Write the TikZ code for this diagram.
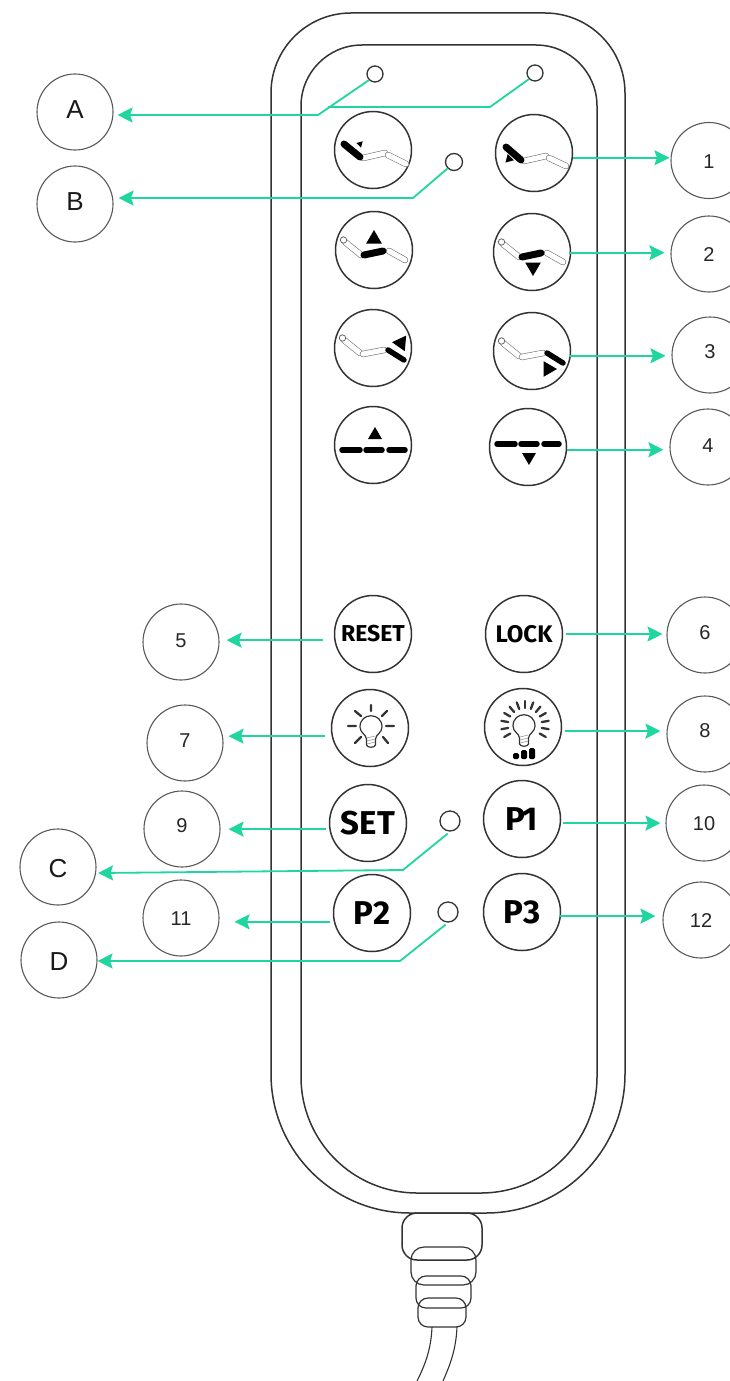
\documentclass[tikz,border=0pt]{standalone}
\usepackage{fontspec}
\setmainfont{Liberation Sans}
\newfontfamily\btnfont{Fira Sans}
\usetikzlibrary{arrows.meta,calc}
\definecolor{ink}{HTML}{333333}
\definecolor{mint}{HTML}{1FD6A0}
\tikzset{
  shell/.style={draw=ink,line width=1.5pt},
  btn/.style={circle,draw=ink,line width=1.5pt,minimum size=77pt,inner sep=0pt},
  led/.style={circle,draw=ink,line width=1.3pt,inner sep=0pt,fill=white},
  big/.style={circle,draw=black!65,line width=1.1pt,minimum size=76pt,inner sep=0pt,text=black!90,font=\fontsize{26}{28}\selectfont},
  num/.style={circle,draw=black!65,line width=1.1pt,minimum size=76pt,inner sep=0pt,text=black!85,font=\fontsize{20}{22}\selectfont},
  lnk/.style={draw=mint,line width=1.8pt,line join=round},
  arr/.style={lnk,-{Stealth[length=15pt,width=15pt,inset=2.5pt]}},
  cordline/.style={draw=ink,line width=1.2pt,rounded corners=11pt},
  ray/.style={draw=ink,line width=2.3pt,line cap=round},
}
\newcommand\nudge[2]{\raisebox{#1pt}[\height][\depth]{#2}}
\newcommand\capo[2]{\draw[line width=6.4pt,line cap=round,black!55] #1 -- #2; \draw[line width=5.2pt,line cap=round,white] #1 -- #2;}
\newcommand\caps[2]{\draw[line width=7pt,line cap=round,black] #1 -- #2;}
\newcommand\flatbar[2]{\draw[line width=5.5pt,line cap=round,black] #1 -- #2;}
\newcommand\tria[4]{\fill[black,shift={(#1,#2)},rotate=#3] (0,-#4) -- ({.87*#4},{.5*#4}) -- ({-.87*#4},{.5*#4}) -- cycle;}
\newcommand\headloop{\draw[black!60,line width=.8pt,fill=white] (-30.5,-10) circle (3.2pt);}
\newcommand\bulb{%
  \draw[ink,line width=1.2pt,line join=round] (-4.5,11) .. controls (-5,6) and (-11,5) .. (-11,-1) .. controls (-11,-16) and (11,-16) .. (11,-1) .. controls (11,5) and (5,6) .. (4.5,11) -- (4.5,17) .. controls (4,20) and (-4,20) .. (-4.5,17) -- cycle;
  \draw[black!40,line width=.6pt] (-4,10) -- (4,8) (-4,13) -- (4,11) (-4,16) -- (4,14);}
\begin{document}
\begin{tikzpicture}[x=1pt,y=-1pt]
\useasboundingbox (0,0) rectangle (729,1381);
% cord
\draw[draw=ink,line width=1.1pt] (432,1327) .. controls (431,1350) and (425,1365) .. (417,1381);
\draw[draw=ink,line width=1.1pt] (457,1327) .. controls (456,1350) and (450,1365) .. (443,1381);
\draw[cordline,rounded corners=10pt] (418,1298) rectangle (466,1327);
\draw[cordline,rounded corners=10pt] (416,1276) rectangle (471,1308);
\draw[cordline,rounded corners=13pt] (411,1247) rectangle (476,1285);
\draw[cordline,line width=1.5pt,rounded corners=15pt] (402,1213) rectangle (482,1260);
% body
\draw[shell] (351,13) -- (545,13) arc (-90:0:80) -- (625,1074) arc (0:90:139) -- (410,1213) arc (90:180:139) -- (271,93) arc (180:270:80) -- cycle;
\draw[shell] (362,45) -- (536,45) arc (-90:0:61) -- (597,1077) arc (0:90:116) -- (417,1193) arc (90:180:116) -- (301,106) arc (180:270:61) -- cycle;
% buttons
\node[btn] (bA) at (373,150) {};
\node[btn] (b1) at (534,153) {};
\node[btn] (bE) at (374,250) {};
\node[btn] (b2) at (532,252) {};
\node[btn] (bF) at (373,348) {};
\node[btn] (b3) at (532,351) {};
\node[btn] (bG) at (373,445) {};
\node[btn] (b4) at (528,447) {};
\node[btn,font=\btnfont\bfseries\fontsize{23}{25}\selectfont] (b5) at (373,634) {RESET};
\node[btn,font=\btnfont\bfseries\fontsize{24}{26}\selectfont] (b6) at (524,634) {LOCK};
\node[btn] (b7) at (370,728) {};
\node[btn] (b8) at (523,727) {};
\node[btn,font=\btnfont\bfseries\fontsize{33}{35}\selectfont] (b9) at (368,823) {SET};
\node[btn,font=\btnfont\bfseries\fontsize{33}{35}\selectfont] (b10) at (522,819) {P\kern-3pt 1};
\node[btn,font=\btnfont\bfseries\fontsize{33}{35}\selectfont] (b11) at (372,913) {P2};
\node[btn,font=\btnfont\bfseries\fontsize{33}{35}\selectfont] (b12) at (522,912) {P3};
% chair icons
\begin{scope}[shift={(bA)}]
  \capo{(-10,8)}{(12,3)}\capo{(15,5)}{(33,14)}\caps{(-29,-6)}{(-13,7)}\tria{-13}{-6}{75}{3.8}
\end{scope}
\begin{scope}[shift={(b1)}]
  \capo{(-10,8)}{(12,3)}\capo{(15,5)}{(32,13)}\caps{(-28,-6)}{(-13,7)}\tria{-25}{6}{15}{5}
\end{scope}
\begin{scope}[shift={(bE)}]
  \capo{(-29,-8)}{(-13,5)}\headloop\capo{(15,1)}{(31,10)}\caps{(-10,5)}{(9,1)}\tria{0}{-11}{0}{9}
\end{scope}
\begin{scope}[shift={(b2)}]
  \capo{(-29,-8)}{(-13,5)}\headloop\capo{(15,1)}{(31,10)}\caps{(-10,5)}{(9,1)}\tria{1}{15}{180}{9}
\end{scope}
\begin{scope}[shift={(bF)}]
  \capo{(-29,-8)}{(-13,5)}\headloop\capo{(-10,6)}{(11,2)}\flatbar{(15,2)}{(31,12)}\tria{28}{-5}{85}{9}
\end{scope}
\begin{scope}[shift={(b3)}]
  \capo{(-29,-8)}{(-13,5)}\headloop\capo{(-10,6)}{(11,2)}\flatbar{(15,2)}{(31,12)}\tria{16}{18}{-90}{9}
\end{scope}
\begin{scope}[shift={(bG)}]
  \flatbar{(-31,5)}{(-13,5)}\flatbar{(-7,5)}{(9,5)}\flatbar{(16,5)}{(32,5)}\tria{2}{-10}{0}{8}
\end{scope}
\begin{scope}[shift={(b4)}]
  \flatbar{(-31,-3)}{(-13,-3)}\flatbar{(-7,-3)}{(9,-3)}\flatbar{(16,-3)}{(31,-3)}\tria{1}{10}{180}{8}
\end{scope}
% bulbs
\begin{scope}[shift={(b7)}]
  \begin{scope}[shift={(1,0)}]\bulb\end{scope}
  \draw[ray] (1,-23) -- (1,-17) (-22,-2) -- (-14,-2) (16,-2) -- (24,-2) (-15,-17) -- (-9,-12) (17,-17) -- (12,-12) (-15,15) -- (-9,9) (18,15) -- (13,9);
\end{scope}
\begin{scope}[shift={(b8)}]
  \begin{scope}[shift={(1,0)}]\bulb\end{scope}
  \foreach \a in {-210,-190,...,30} {\draw[ray] ($(2,-2)+(\a:17)$) -- ($(2,-2)+(\a:24)$);}
  \fill[black,rounded corners=1.5pt] (-10,26) rectangle (-4,32) (-2,23) rectangle (4,32) (6,21) rectangle (12,32);
\end{scope}
% LEDs
\node[led,minimum size=16pt] (ledA) at (375,74) {};
\node[led,minimum size=16pt] (ledA2) at (535,73) {};
\node[led,minimum size=17pt] (ledB) at (454,162) {};
\node[led,minimum size=20pt] (ledC) at (450,821) {};
\node[led,minimum size=20pt] (ledD) at (448,912) {};
% labels
\node[big] (nA) at (75,112) {\nudge{2}{A}};
\node[big] (nB) at (75,204) {\nudge{2}{B}};
\node[big] (nC) at (58,867) {\nudge{-2}{C}};
\node[big] (nD) at (59,960) {\nudge{-2}{D}};
\node[num] (n1) at (709,160.5) {\nudge{-1.5}{1}};
\node[num] (n2) at (709,254) {\nudge{-1}{2}};
\node[num] (n3) at (710,355) {\nudge{3}{3}};
\node[num] (n4) at (708,447) {\nudge{1}{4}};
\node[num] (n5) at (181,642) {\nudge{1}{5}};
\node[num] (n6) at (705,635) {\nudge{2}{6}};
\node[num] (n7) at (185,743) {\nudge{2}{7}};
\node[num] (n8) at (705,734) {\nudge{3}{8}};
\node[num] (n9) at (182,829) {\nudge{3}{9}};
\node[num] (n10) at (704,823) {\nudge{-1}{10}};
\node[num] (n11) at (181,918) {\nudge{-1}{11}};
\node[num] (n12) at (701,920) {\nudge{-1}{12}};
% bends
\coordinate (bendA) at (318,115);
\coordinate (bendA2) at (490,107);
\coordinate (joinA) at (328,107);
\coordinate (bendB) at (413,198);
\coordinate (bendC) at (403,870);
\coordinate (bendD) at (400,961);
% connectors
\draw[arr,shorten >=4pt] (ledA.225) -- (bendA) -- (bendA -| nA.east);
\draw[lnk] (ledA2.225) -- (bendA2) -- (joinA);
\draw[arr,shorten >=5pt] (ledB.225) -- (bendB) -- (bendB -| nB.east);
\draw[arr,shorten <=3pt,shorten >=2pt] (ledC.-90) -- (bendC) -- (nC.-9);
\draw[arr,shorten <=3pt] (ledD.-90) -- (bendD) -- (bendD -| nD.east);
\draw[arr,shorten >=1pt] (b1.-7.5) -- (b1.-7.5 -| n1.west);
\draw[arr,shorten <=-2pt,shorten >=6pt] (b2.-1.5) -- (b2.-1.5 -| n2.west);
\draw[arr,shorten <=-2pt,shorten >=6pt] (b3.-7.5) -- (b3.-7.5 -| n3.west);
\draw[arr,shorten >=6pt] (b4.-4.5) -- (b4.-4.5 -| n4.west);
\draw[arr,shorten <=11pt,shorten >=7pt] (b5.189) -- (b5.189 -| n5.east);
\draw[arr,shorten <=3pt,shorten >=4pt] (b6.0) -- (b6.0 -| n6.west);
\draw[arr,shorten <=7pt,shorten >=5pt] (b7.192) -- (b7.192 -| n7.east);
\draw[arr,shorten <=3pt,shorten >=6pt] (b8.-6) -- (b8.-6 -| n8.west);
\draw[arr,shorten <=3pt,shorten >=8pt] (b9.189) -- (b9.189 -| n9.east);
\draw[arr,shorten <=2pt,shorten >=5pt] (b10.-6) -- (b10.-6 -| n10.west);
\draw[arr,shorten <=4pt,shorten >=15pt] (b11.193.5) -- (b11.193.5 -| n11.east);
\draw[arr,shorten <=-2pt,shorten >=7pt] (b12.-6) -- (b12.-6 -| n12.west);
\end{tikzpicture}
\end{document}
